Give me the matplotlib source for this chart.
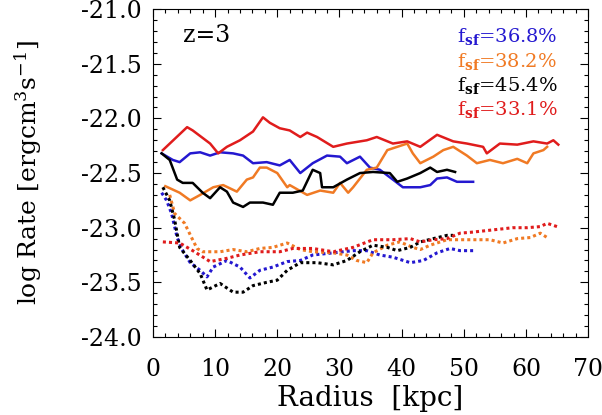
import numpy as np
import matplotlib.pyplot as plt
from matplotlib.ticker import MultipleLocator

plt.rcParams['font.family'] = 'DejaVu Serif'
plt.rcParams['mathtext.fontset'] = 'dejavuserif'

# radius [kpc] and log rate for each run, solid and dotted profiles
blue_r = [1.4, 3.2, 4.3, 6.0, 7.6, 9.2, 10.8, 12.9, 14.5, 16.1, 18.3, 20.4, 22.0, 23.7, 25.7, 28.0,
          30.1, 31.2, 33.3, 34.9, 36.5, 38.6, 40.2, 43.0, 44.6, 45.7, 47.3, 48.9, 51.5]
blue_solid = [-22.32, -22.38, -22.40, -22.32, -22.31, -22.34, -22.31, -22.32, -22.34, -22.41, -22.40,
              -22.43, -22.38, -22.50, -22.41, -22.34, -22.35, -22.41, -22.35, -22.45, -22.47, -22.56,
              -22.63, -22.63, -22.61, -22.55, -22.54, -22.58, -22.58]
blue_dot_r = [1.4, 2.2, 3.0, 3.9, 4.7, 6.0, 7.6, 8.7, 9.7, 11.9, 14.0, 15.6, 17.2, 19.3, 21.6, 23.7,
              25.7, 29.0, 32.2, 34.4, 36.5, 38.6, 41.4, 43.5, 45.7, 47.8, 49.4, 51.5]
blue_dot = [-22.68, -22.75, -22.87, -23.09, -23.20, -23.32, -23.39, -23.45, -23.36, -23.30, -23.36,
            -23.46, -23.39, -23.36, -23.31, -23.30, -23.25, -23.23, -23.21, -23.21, -23.25, -23.27,
            -23.32, -23.30, -23.23, -23.19, -23.21, -23.21]

orange_r = [2.0, 4.3, 6.0, 7.6, 9.7, 11.3, 13.5, 15.1, 16.1, 17.2, 18.3, 20.0, 21.6, 22.0, 24.8, 26.9,
            29.0, 30.1, 31.4, 32.2, 34.4, 36.0, 37.7, 39.3, 40.9, 41.8, 43.0, 45.1, 46.7, 48.3, 50.5,
            52.1, 54.2, 56.3, 58.6, 60.2, 61.2, 62.8, 63.4]
orange_solid = [-22.62, -22.68, -22.75, -22.70, -22.63, -22.61, -22.67, -22.56, -22.54, -22.45,
                -22.45, -22.50, -22.63, -22.61, -22.70, -22.66, -22.68, -22.59, -22.68, -22.63,
                -22.47, -22.45, -22.29, -22.26, -22.23, -22.32, -22.41, -22.35, -22.29, -22.26,
                -22.34, -22.41, -22.38, -22.41, -22.37, -22.41, -22.32, -22.29, -22.26]
orange_dot_r = [2.7, 3.5, 5.1, 6.3, 7.1, 8.0, 10.8, 12.9, 15.1, 17.2, 19.3, 21.6, 23.7, 25.7, 29.0,
                31.2, 32.8, 34.4, 35.4, 37.7, 39.7, 41.8, 43.0, 44.6, 47.3, 49.4, 51.5, 54.2, 56.3,
                58.6, 60.7, 62.3, 63.4]
orange_dot = [-22.70, -22.87, -22.96, -23.10, -23.19, -23.22, -23.22, -23.20, -23.22, -23.19, -23.18,
              -23.14, -23.20, -23.22, -23.23, -23.25, -23.30, -23.32, -23.23, -23.16, -23.13, -23.18,
              -23.20, -23.16, -23.11, -23.11, -23.11, -23.11, -23.14, -23.10, -23.09, -23.05, -23.09]

black_r = [1.4, 2.7, 3.9, 4.8, 6.4, 8.0, 9.2, 10.8, 11.9, 12.9, 14.5, 15.6, 17.7, 19.3, 20.4, 22.5,
           24.1, 25.7, 26.9, 27.2, 29.0, 31.2, 33.3, 35.4, 38.1, 39.3, 40.9, 43.0, 44.6, 45.7, 47.3, 48.6]
black_solid = [-22.32, -22.38, -22.56, -22.59, -22.59, -22.68, -22.73, -22.63, -22.67, -22.77, -22.81,
               -22.77, -22.77, -22.79, -22.68, -22.68, -22.66, -22.47, -22.50, -22.63, -22.63, -22.56,
               -22.50, -22.49, -22.50, -22.58, -22.55, -22.50, -22.45, -22.49, -22.47, -22.49]
black_dot_r = [1.6, 2.7, 3.5, 4.3, 6.0, 7.6, 8.7, 10.8, 12.9, 14.5, 16.1, 18.3, 20.0, 21.6, 23.7, 26.4,
               29.0, 31.2, 33.3, 35.4, 37.7, 39.3, 41.4, 43.0, 45.1, 47.3, 48.3]
black_dot = [-22.63, -22.75, -22.93, -23.18, -23.30, -23.42, -23.57, -23.51, -23.59, -23.59, -23.53,
             -23.50, -23.48, -23.39, -23.32, -23.32, -23.34, -23.30, -23.22, -23.16, -23.18, -23.21,
             -23.18, -23.13, -23.10, -23.07, -23.07]

red_r = [1.6, 5.5, 6.4, 9.2, 10.5, 11.9, 14.0, 16.1, 17.7, 18.8, 20.4, 22.0, 23.7, 24.8, 26.4, 29.0,
         31.2, 34.4, 36.0, 38.6, 40.9, 43.0, 45.7, 48.3, 50.5, 53.1, 53.7, 55.8, 58.6, 61.2, 63.4, 64.4, 65.2]
red_solid = [-22.29, -22.08, -22.11, -22.23, -22.32, -22.26, -22.20, -22.12, -21.99, -22.04, -22.09,
             -22.11, -22.17, -22.13, -22.17, -22.26, -22.23, -22.20, -22.17, -22.23, -22.21, -22.26,
             -22.15, -22.21, -22.23, -22.26, -22.32, -22.23, -22.24, -22.21, -22.23, -22.20, -22.24]
red_dot_r = [1.6, 4.3, 6.4, 9.2, 11.9, 14.0, 17.2, 20.4, 22.5, 25.7, 29.0, 32.2, 35.4, 38.6, 41.4, 43.0,
             45.1, 47.3, 49.4, 51.5, 54.7, 57.9, 60.2, 62.3, 63.4, 65.0]
red_dot = [-23.13, -23.14, -23.21, -23.31, -23.28, -23.25, -23.22, -23.22, -23.19, -23.19, -23.22,
           -23.18, -23.11, -23.11, -23.10, -23.13, -23.11, -23.10, -23.05, -23.04, -23.02, -23.00,
           -23.00, -22.99, -22.96, -22.99]

labels = ['36.8', '38.2', '45.4', '33.1']
colors = ['#2418d0', '#f07a24', 'black', '#e01c1c']

fig = plt.figure(figsize=(6.02, 4.15), dpi=100)
ax = fig.add_axes([0.254, 0.188, 0.723, 0.790])

runs = [(blue_r, blue_solid, blue_dot_r, blue_dot),
        (orange_r, orange_solid, orange_dot_r, orange_dot),
        (black_r, black_solid, black_dot_r, black_dot),
        (red_r, red_solid, red_dot_r, red_dot)]
for (r, s, rd, d), c in zip(runs, colors):
    ax.plot(r, s, color=c, lw=1.8)
    ax.plot(rd, d, color=c, lw=2.2, dashes=(1.0, 1.0))

ax.set_xlim(0, 70)
ax.set_ylim(-24.0, -21.0)
ax.xaxis.set_major_locator(MultipleLocator(10))
ax.xaxis.set_minor_locator(MultipleLocator(2))
ax.yaxis.set_major_locator(MultipleLocator(0.5))
ax.yaxis.set_minor_locator(MultipleLocator(0.1))
ax.yaxis.set_major_formatter(plt.FormatStrFormatter('%.1f'))
ax.tick_params(which='both', direction='in', top=True, right=True, labelsize=17, width=0.8)
ax.tick_params(which='major', length=6)
ax.tick_params(which='minor', length=3)
ax.tick_params(axis='x', pad=15)
ax.tick_params(axis='y', pad=8)
for sp in ax.spines.values():
    sp.set_linewidth(0.8)

ax.set_xlabel('Radius  [kpc]', fontsize=20)
ax.set_ylabel(r'log Rate [ergcm$^3$s$^{-1}$]', fontsize=18)
ax.xaxis.set_label_coords(0.5, -0.145)
ax.yaxis.set_label_coords(-0.25, 0.5)

ax.text(0.069, 0.92, 'z=3', transform=ax.transAxes, fontsize=17, va='center', ha='left')
for i, (lab, c) in enumerate(zip(labels, colors)):
    ax.text(0.929, 0.915 - i * 0.074, r'f$_{\mathbf{sf}}$=' + lab + '%', transform=ax.transAxes,
            fontsize=14, color=c, ha='right', va='center')

fig.savefig('out.png', dpi=100)
